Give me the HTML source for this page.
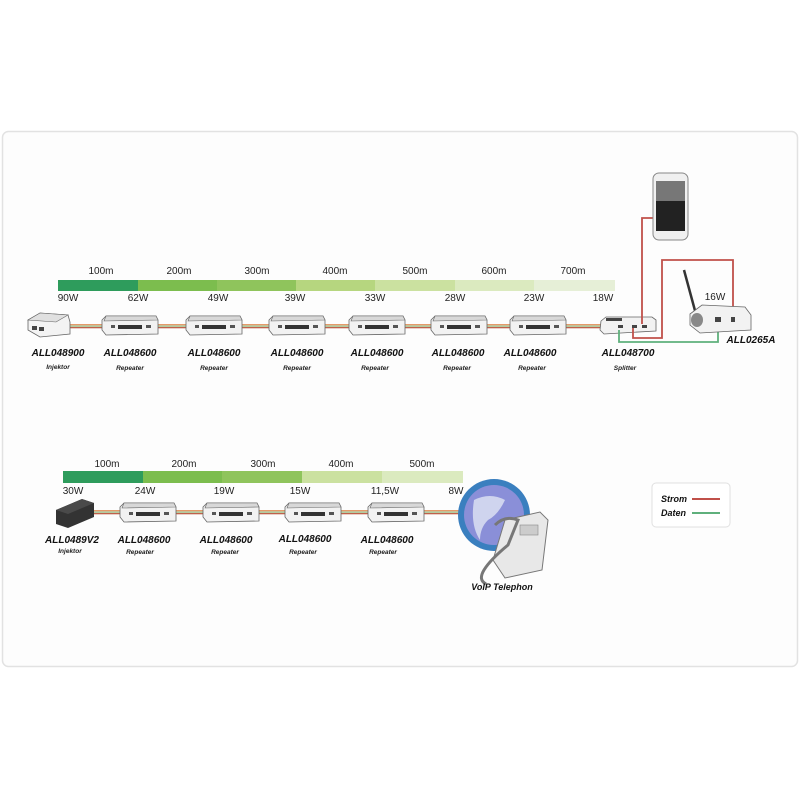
<!DOCTYPE html>
<html><head><meta charset="utf-8"><style>
html,body{margin:0;padding:0;background:#fff;width:800px;height:800px;overflow:hidden}
text{font-family:"Liberation Sans",sans-serif}
.d{font-size:10px;fill:#222}
.n{font-size:10px;font-weight:bold;font-style:italic;fill:#111}
.s{font-size:6.5px;font-weight:bold;font-style:italic;fill:#222}
</style></head><body>
<svg width="800" height="800" viewBox="0 0 800 800" xmlns="http://www.w3.org/2000/svg">
<defs>
<g id="rep">
<path d="M-28,-6 L-24,-10 L26,-10 L28,-6 L28,8 L-24,9 L-28,4 Z" fill="#f2f2f2" stroke="#666" stroke-width="0.8"/>
<path d="M-24,-10 L26,-10 L28,-6 L-26,-5 Z" fill="#d8d8d8" stroke="#666" stroke-width="0.6"/>
<rect x="-12" y="-1" width="24" height="4" fill="#333"/>
<rect x="-19" y="-1" width="4" height="3" fill="#555"/>
<rect x="16" y="-1" width="5" height="3" fill="#555"/>
</g>
<g id="cab">
<rect x="0" y="-2" width="1" height="1.5" fill="#e8a070"/>
</g>
</defs>
<rect x="2.5" y="131.5" width="795" height="535" rx="6" fill="#fdfdfd" stroke="#e2e2e2" stroke-width="1.5"/>

<!-- top bar -->
<rect x="58" y="280" width="80" height="11" fill="#2e9c5c"/>
<rect x="138" y="280" width="79" height="11" fill="#7cbd4e"/>
<rect x="217" y="280" width="79" height="11" fill="#8fc45c"/>
<rect x="296" y="280" width="79" height="11" fill="#b6d67f"/>
<rect x="375" y="280" width="80" height="11" fill="#cbe1a0"/>
<rect x="455" y="280" width="79" height="11" fill="#dbeabf"/>
<rect x="534" y="280" width="81" height="11" fill="#e6efd7"/>
<g class="d" text-anchor="middle">
<text x="101" y="274">100m</text><text x="179" y="274">200m</text><text x="257" y="274">300m</text><text x="335" y="274">400m</text><text x="415" y="274">500m</text><text x="494" y="274">600m</text><text x="573" y="274">700m</text>
<text x="68" y="301">90W</text><text x="138" y="301">62W</text><text x="218" y="301">49W</text><text x="295" y="301">39W</text><text x="375" y="301">33W</text><text x="455" y="301">28W</text><text x="534" y="301">23W</text><text x="603" y="301">18W</text>
</g>
<!-- top cable -->
<rect x="70" y="324" width="535" height="1.3" fill="#e59a6a"/>
<rect x="70" y="325.5" width="535" height="1.3" fill="#9fbf8a"/>
<rect x="70" y="327" width="535" height="1.3" fill="#c0604a"/>
<!-- injector -->
<path d="M28,320 L40,313 L68,315 L70,322 L70,334 L40,337 L28,330 Z" fill="#f3f3f3" stroke="#666" stroke-width="0.8"/>
<path d="M28,320 L40,313 L68,315 L56,322 Z" fill="#e0e0e0" stroke="#666" stroke-width="0.6"/>
<rect x="32" y="326" width="5" height="4" fill="#444"/><rect x="39" y="327" width="5" height="4" fill="#444"/>
<use href="#rep" x="130" y="326"/><use href="#rep" x="214" y="326"/><use href="#rep" x="297" y="326"/><use href="#rep" x="377" y="326"/><use href="#rep" x="459" y="326"/><use href="#rep" x="538" y="326"/>
<!-- splitter -->
<path d="M601,321 L606,317 L652,317 L656,320 L656,331 L604,334 L600,330 Z" fill="#f2f2f2" stroke="#666" stroke-width="0.8"/>
<rect x="606" y="318" width="16" height="3" fill="#444"/><rect x="618" y="325" width="5" height="3" fill="#444"/><rect x="632" y="325" width="5" height="3" fill="#444"/><rect x="642" y="325" width="5" height="3" fill="#444"/>
<g text-anchor="middle">
<text class="n" x="58" y="356">ALL048900</text><text class="s" x="58" y="369">Injektor</text>
<text class="n" x="130" y="356">ALL048600</text><text class="s" x="130" y="370">Repeater</text>
<text class="n" x="214" y="356">ALL048600</text><text class="s" x="214" y="370">Repeater</text>
<text class="n" x="297" y="356">ALL048600</text><text class="s" x="297" y="370">Repeater</text>
<text class="n" x="377" y="356">ALL048600</text><text class="s" x="375" y="370">Repeater</text>
<text class="n" x="458" y="356">ALL048600</text><text class="s" x="457" y="370">Repeater</text>
<text class="n" x="530" y="356">ALL048600</text><text class="s" x="532" y="370">Repeater</text>
<text class="n" x="628" y="356">ALL048700</text><text class="s" x="625" y="370">Splitter</text>
</g>
<!-- phone & AP wiring -->
<polyline points="642,324 642,218 653,218" fill="none" stroke="#c0504a" stroke-width="1.8"/>
<polyline points="633,328 633,338 662,338 662,260 733,260 733,320" fill="none" stroke="#c0504a" stroke-width="1.8"/>
<polyline points="619,330 619,342 718,342 718,322" fill="none" stroke="#5fb07c" stroke-width="1.8"/>
<rect x="653" y="173" width="35" height="67" rx="6" fill="#f0f0f0" stroke="#888"/>
<rect x="656" y="181" width="29" height="50" fill="#222"/>
<rect x="656" y="181" width="29" height="20" fill="#777"/>
<line x1="684" y1="270" x2="697" y2="318" stroke="#333" stroke-width="2.5"/>
<path d="M690,314 L702,305 L745,307 L751,315 L751,330 L700,333 L690,325 Z" fill="#f2f2f2" stroke="#666" stroke-width="0.8"/>
<ellipse cx="697" cy="320" rx="6" ry="7" fill="#888"/>
<rect x="715" y="317" width="6" height="5" fill="#444"/><rect x="731" y="317" width="4" height="5" fill="#444"/>
<text class="d" x="715" y="300" text-anchor="middle">16W</text>
<text class="n" x="751" y="343" text-anchor="middle">ALL0265A</text>

<!-- bottom bar -->
<rect x="63" y="471" width="80" height="12" fill="#2e9c5c"/>
<rect x="143" y="471" width="79" height="12" fill="#7cbd4e"/>
<rect x="222" y="471" width="80" height="12" fill="#8fc45c"/>
<rect x="302" y="471" width="80" height="12" fill="#cbe1a0"/>
<rect x="382" y="471" width="81" height="12" fill="#dbeabf"/>
<g class="d" text-anchor="middle">
<text x="107" y="467">100m</text><text x="184" y="467">200m</text><text x="263" y="467">300m</text><text x="341" y="467">400m</text><text x="422" y="467">500m</text>
<text x="73" y="494">30W</text><text x="145" y="494">24W</text><text x="224" y="494">19W</text><text x="300" y="494">15W</text><text x="385" y="494">11,5W</text><text x="456" y="494">8W</text>
</g>
<rect x="90" y="510" width="375" height="1.3" fill="#e59a6a"/>
<rect x="90" y="511.5" width="375" height="1.3" fill="#9fbf8a"/>
<rect x="90" y="513" width="375" height="1.3" fill="#c0604a"/>
<path d="M56,510 L82,499 L94,503 L94,517 L68,528 L56,524 Z" fill="#333"/>
<path d="M56,510 L82,499 L94,503 L68,514 Z" fill="#4a4a4a"/>
<use href="#rep" x="148" y="513"/><use href="#rep" x="231" y="513"/><use href="#rep" x="313" y="513"/><use href="#rep" x="396" y="513"/>
<g text-anchor="middle">
<text class="n" x="72" y="543">ALL0489V2</text><text class="s" x="70" y="553">Injektor</text>
<text class="n" x="144" y="543">ALL048600</text><text class="s" x="140" y="554">Repeater</text>
<text class="n" x="226" y="543">ALL048600</text><text class="s" x="225" y="554">Repeater</text>
<text class="n" x="305" y="542">ALL048600</text><text class="s" x="303" y="554">Repeater</text>
<text class="n" x="387" y="543">ALL048600</text><text class="s" x="383" y="554">Repeater</text>
</g>
<!-- globe & phone -->
<circle cx="494" cy="515" r="36" fill="#3a7fbf"/>
<circle cx="494" cy="515" r="30" fill="#8a8fd8"/>
<path d="M474,500 Q490,492 505,500 Q498,515 488,520 Q480,528 480,540 Q470,525 474,500Z" fill="#cfd4ee"/>
<path d="M505,520 L540,512 L548,520 L542,570 L505,578 L493,560 Z" fill="#e8e8e8" stroke="#777"/>
<path d="M495,525 Q505,515 518,520 L508,545 Q490,560 484,570 Q478,580 486,584" fill="none" stroke="#777" stroke-width="3"/>
<rect x="520" y="525" width="18" height="10" fill="#ccc" stroke="#888" stroke-width="0.6"/>
<text x="502" y="590" text-anchor="middle" style="font-size:9px;font-weight:bold;font-style:italic;fill:#111">VoIP Telephon</text>

<!-- legend -->
<rect x="652" y="483" width="78" height="44" rx="4" fill="#fff" stroke="#e0e0e0"/>
<text class="n" x="661" y="502" style="font-size:9px">Strom</text>
<text class="n" x="661" y="516" style="font-size:9px">Daten</text>
<line x1="692" y1="499" x2="720" y2="499" stroke="#c0504a" stroke-width="2"/>
<line x1="692" y1="513" x2="720" y2="513" stroke="#5fb07c" stroke-width="2"/>
</svg>
</body></html>
